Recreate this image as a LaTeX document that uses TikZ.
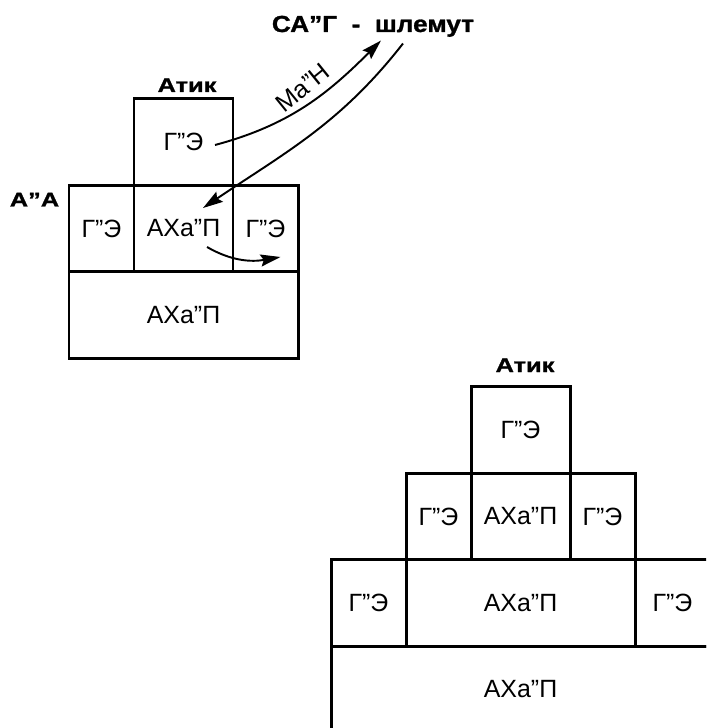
\documentclass[tikz,border=0pt]{standalone}
\usepackage{fontspec}
\setmainfont{Liberation Sans}
\newfontfamily\widebold[FakeStretch=1.28,FakeBold=1.2]{Liberation Sans Bold}
\newfontfamily\titlebold[FakeStretch=1.13,FakeBold=1.2]{Liberation Sans Bold}
\usetikzlibrary{arrows.meta}
\newcommand{\gev}{Г”Э}
\newcommand{\ahp}{АХа”П}
\tikzset{
  cell/.style={draw, line width=1.7pt, minimum height=1.73cm, inner sep=0pt,
    font=\fontsize{14.2}{16}\selectfont},
  lbl/.style={anchor=base, font=\widebold\fontsize{11.3}{13}\selectfont},
  flow/.style={line width=1.1pt, -{Stealth[length=4mm,width=2.4mm,inset=0.6mm]}}
}

\begin{document}
\begin{tikzpicture}
      \useasboundingbox (0,0) rectangle (14.12,-14.56);
      \clip (0,0) rectangle (14.12,-14.56);

      \node[lbl, font=\titlebold\fontsize{13.2}{15}\selectfont] (sag) at (7.46,-0.64) {СА”Г~~-~~шлемут};

      \begin{scope}[shift={(3.67,-2.84)}]
        \node[cell, minimum width=1.98cm] (gevTop) at (0,0) {\gev};
        \node[cell, minimum width=1.3cm] (gevL) at (-1.64,-1.73) {\gev};
        \node[cell, minimum width=1.98cm] (ahM) at (0,-1.73) {\ahp};
        \node[cell, minimum width=1.3cm] (gevR) at (1.64,-1.73) {\gev};
        \node[cell, minimum width=4.58cm] (ahB) at (0,-3.46) {\ahp};
        \node[lbl] (atik) at (0.07,1.0) {Атик};
        \node[lbl] (aa) at (-2.98,-1.29) {А”А};
      \end{scope}

      \draw[flow] ([shift={(0.63,-0.06)}]gevTop.center) to[out=15,in=225]
        node[pos=0.55, rotate=39, anchor=south, inner sep=4pt, font=\fontsize{14.2}{16}\selectfont] (man) {Ма”Н}
        ([shift={(0.16,0.05)}]sag.south);
      \draw[flow] ([shift={(0.6,-0.01)}]sag.south) to[out=-128,in=34]
        ([shift={(0.39,0.41)}]ahM.center);
      \draw[flow] ([shift={(0.47,-0.37)}]ahM.center) to[out=-30,in=190]
        ([shift={(0.3,-0.57)}]gevR.center);

      \begin{scope}[shift={(10.41,-8.60)}]
        \node[cell, minimum width=1.98cm] (top) at (0,0) {\gev};
        \node[cell, minimum width=1.3cm] (rowA1) at (-1.64,-1.73) {\gev};
        \node[cell, minimum width=1.98cm] (rowA2) at (0,-1.73) {\ahp};
        \node[cell, minimum width=1.3cm] (rowA3) at (1.64,-1.73) {\gev};
        \node[cell, minimum width=1.5cm] (rowB1) at (-3.04,-3.46) {\gev};
        \node[cell, minimum width=4.58cm] (rowB2) at (0,-3.46) {\ahp};
        \node[cell, minimum width=1.5cm] (rowB3) at (3.04,-3.46) {\gev};
        \node[cell, minimum width=7.58cm] (rowC) at (0,-5.19) {\ahp};
        \node[lbl] (atik2) at (0.09,1.16) {Атик};
      \end{scope}
    \end{tikzpicture}
\end{document}
